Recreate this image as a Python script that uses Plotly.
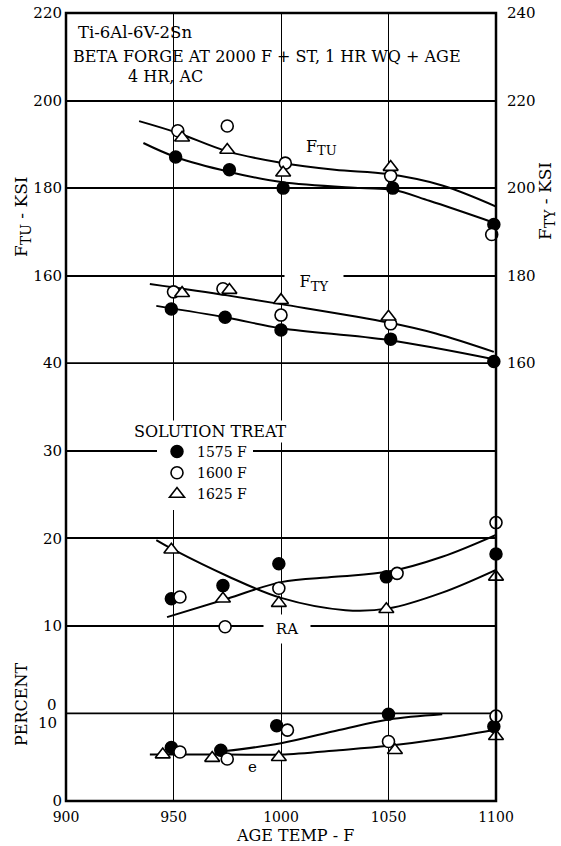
import plotly.graph_objects as go

# ---------------- data ----------------
# Solution-treat series names
ST_NAMES = ["1575 F", "1600 F", "1625 F"]

# Ultimate tensile strength F_TU (ksi, left axis)
FTU_1575_T = [951, 976, 1001, 1052, 1099]
FTU_1575 = [187.1, 184.2, 180.0, 180.0, 171.7]
FTU_1600_T = [952, 975, 1002, 1051, 1098]
FTU_1600 = [193.1, 194.2, 185.7, 182.8, 169.4]
FTU_1625_T = [954, 975, 1001, 1051, 1101]
FTU_1625 = [191.5, 188.7, 183.5, 184.8, 175.8]

# Yield strength F_TY (ksi, right axis)
FTY_1575_T = [949, 974, 1000, 1051, 1099]
FTY_1575 = [172.4, 170.5, 167.6, 165.5, 160.4]
FTY_1600_T = [950, 973, 1000, 1051, 1102]
FTY_1600 = [176.3, 177.0, 171.0, 169.0, 160.9]
FTY_1625_T = [954, 976, 1000, 1050, 1101]
FTY_1625 = [176.0, 176.7, 174.4, 170.6, 163.0]

# Reduction of area RA (percent)
RA_1575_T = [949, 973, 999, 1049, 1100]
RA_1575 = [13.1, 14.6, 17.1, 15.6, 18.2]
RA_1600_T = [953, 974, 999, 1054, 1100]
RA_1600 = [13.3, 9.9, 14.3, 16.0, 21.8]
RA_1625_T = [949, 973, 999, 1049, 1100]
RA_1625 = [18.7, 13.1, 12.6, 11.9, 15.6]

# Elongation e (percent)
EL_1575_T = [949, 972, 998, 1050, 1099]
EL_1575 = [6.1, 5.8, 8.6, 9.9, 8.5]
EL_1600_T = [953, 975, 1003, 1050, 1100]
EL_1600 = [5.6, 4.8, 8.1, 6.8, 9.7]
EL_1625_T = [945, 968, 999, 1053, 1100]
EL_1625 = [5.3, 4.9, 5.0, 5.8, 7.4]

# Faired curves
FTU_UPPER_T = [934, 952, 975, 1000, 1025, 1050, 1075, 1100]
FTU_UPPER = [195.3, 192.6, 188.4, 185.8, 184.2, 183.2, 180.6, 175.8]
FTU_LOWER_T = [936, 951, 976, 1000, 1037, 1052, 1069, 1099]
FTU_LOWER = [190.3, 187.1, 183.7, 181.4, 180.0, 179.6, 177.1, 172.1]

FTY_UPPER_T = [939, 975, 1000, 1050, 1072, 1099]
FTY_UPPER = [178.1, 175.5, 173.5, 169.3, 166.8, 162.6]
FTY_LOWER_T = [942, 975, 1000, 1050, 1099]
FTY_LOWER = [173.1, 170.4, 168.0, 165.3, 160.9]

RA_RISE_T = [947, 975, 1000, 1025, 1050, 1075, 1100]
RA_RISE = [11.0, 13.1, 15.0, 15.6, 16.2, 17.9, 20.4]
RA_U_T = [942, 950, 975, 1000, 1030, 1050, 1075, 1100]
RA_U = [19.8, 18.7, 15.7, 13.2, 11.8, 12.0, 13.8, 16.4]

EL_LOWER_T = [939, 975, 1000, 1027, 1050, 1075, 1099]
EL_LOWER = [5.3, 5.3, 5.3, 5.8, 6.3, 7.1, 8.1]
EL_UPPER_T = [974, 1000, 1027, 1050, 1075]
EL_UPPER = [5.7, 6.6, 8.1, 9.3, 9.9]

# Axis ticks
X_TICKS = [900, 950, 1000, 1050, 1100]
FTU_TICKS = [140, 160, 180, 200, 220]
FTU_TEXT = ["", "160", "180", "200", "220"]
FTY_TICKS = [160, 180, 200, 220, 240]
RA_TICKS = [0, 10, 20, 30, 40]
RA_TEXT = ["", "10", "20", "30", "40"]
EL_TICKS = [0, 10]
EL_TEXT = ["0", ""]

# ---------------- styling ----------------
FONT = "DejaVu Serif"
W, H = 561, 846
ML, MR, MT, MB = 66, 65, 13, 45
PW, PH = W - ML - MR, H - MT - MB
EL_DOMAIN = [0, 1 / 9]
RA_DOMAIN = [1 / 9, 5 / 9]
STR_DOMAIN = [5 / 9, 1]


def px(xp):
    return (xp - ML) / PW


def py(yp):
    return (H - MB - yp) / PH


def F(sub, size=13):
    return "F<sub><span style='font-size:%dpx'>%s</span></sub>" % (size, sub)


marker_styles = {
    "1575 F": dict(symbol="circle", size=12, color="black", line=dict(color="black", width=1.5)),
    "1600 F": dict(symbol="circle", size=12, color="white", line=dict(color="black", width=1.6)),
    "1625 F": dict(symbol="triangle-up", size=13, color="white", line=dict(color="black", width=1.6)),
}

fig = go.Figure()

line_style = dict(color="black", width=2, shape="spline")
curves = [
    (FTU_UPPER_T, FTU_UPPER, "y"), (FTU_LOWER_T, FTU_LOWER, "y"),
    (FTY_UPPER_T, FTY_UPPER, "y2"), (FTY_LOWER_T, FTY_LOWER, "y2"),
    (RA_RISE_T, RA_RISE, "y3"), (RA_U_T, RA_U, "y3"),
    (EL_LOWER_T, EL_LOWER, "y4"), (EL_UPPER_T, EL_UPPER, "y4"),
]
for cx, cy, ya in curves:
    fig.add_trace(go.Scatter(x=cx, y=cy, mode="lines", line=line_style, yaxis=ya,
                             showlegend=False, hoverinfo="skip", cliponaxis=False))

series = {
    "1575 F": [(FTU_1575_T, FTU_1575, "y"), (FTY_1575_T, FTY_1575, "y2"),
               (RA_1575_T, RA_1575, "y3"), (EL_1575_T, EL_1575, "y4")],
    "1600 F": [(FTU_1600_T, FTU_1600, "y"), (FTY_1600_T, FTY_1600, "y2"),
               (RA_1600_T, RA_1600, "y3"), (EL_1600_T, EL_1600, "y4")],
    "1625 F": [(FTU_1625_T, FTU_1625, "y"), (FTY_1625_T, FTY_1625, "y2"),
               (RA_1625_T, RA_1625, "y3"), (EL_1625_T, EL_1625, "y4")],
}
for name in ST_NAMES:
    for i, (sx, sy, ya) in enumerate(series[name]):
        fig.add_trace(go.Scatter(x=sx, y=sy, mode="markers", marker=marker_styles[name],
                                 yaxis=ya, name=name, legendgroup=name,
                                 showlegend=(i == 0), cliponaxis=False))

tickfont = dict(family=FONT, size=15, color="black")
common_y = dict(showgrid=True, gridcolor="black", gridwidth=1.8, zeroline=False,
                showline=False, ticks="", tickfont=tickfont, anchor="x",
                tickmode="array", ticklabelstandoff=3, automargin=False)

fig.update_layout(
    width=W, height=H,
    margin=dict(l=ML, r=MR, t=MT, b=MB, pad=0, autoexpand=False),
    paper_bgcolor="white", plot_bgcolor="rgba(0,0,0,0)",
    font=dict(family=FONT, color="black"),
    xaxis=dict(domain=[0, 1], range=[900, 1100], tickmode="array", tickvals=X_TICKS,
               showgrid=True, gridcolor="black", gridwidth=1.3, zeroline=False,
               showline=False, ticks="", anchor="y4", automargin=False,
               tickfont=dict(family=FONT, size=14, color="black"), ticklabelstandoff=6),
    yaxis=dict(domain=STR_DOMAIN, range=[140, 220], tickvals=FTU_TICKS, ticktext=FTU_TEXT, **common_y),
    yaxis2=dict(overlaying="y", side="right", range=[160, 240], tickmode="array",
                tickvals=FTY_TICKS, showgrid=False, zeroline=False, showline=False,
                ticks="", tickfont=tickfont, anchor="x", ticklabelstandoff=10,
                automargin=False),
    yaxis3=dict(domain=RA_DOMAIN, range=[0, 40], tickvals=RA_TICKS, ticktext=RA_TEXT, **common_y),
    yaxis4=dict(domain=EL_DOMAIN, range=[0, 10], tickvals=EL_TICKS, ticktext=EL_TEXT, **common_y),
    legend=dict(x=px(157), y=py(436), xanchor="left", yanchor="top",
                bgcolor="white", borderwidth=0,
                font=dict(family=FONT, size=14, color="black"),
                itemclick=False, tracegroupgap=0),
    showlegend=True,
)

# section boundary rules between the stacked scales
for v in (RA_DOMAIN[0], RA_DOMAIN[1]):
    fig.add_shape(type="line", xref="paper", x0=0, x1=1, yref="paper", y0=v, y1=v,
                  line=dict(color="black", width=1.8), layer="below")

# plot frame
fig.add_shape(type="rect", xref="paper", yref="paper", x0=0, x1=1, y0=0, y1=1,
              line=dict(color="black", width=2.5), layer="above")

ann = []


def text(t, xp, yp, size=16, xanchor="center", **kw):
    ann.append(dict(text=t, x=px(xp), y=py(yp), xref="paper", yref="paper",
                    xanchor=xanchor, yanchor="middle", showarrow=False,
                    font=dict(family=FONT, size=size, color="black"), **kw))


text("Ti-6Al-6V-2Sn", 76, 33, size=16.5, xanchor="left")
text("BETA FORGE AT 2000 F + ST, 1 HR WQ + AGE", 71, 56, size=16, xanchor="left")
text("4 HR, AC", 126, 76, size=16, xanchor="left")
text(F("TU"), 321, 147, size=16)
text(F("TY"), 314, 283, size=16, bgcolor="white", width=56, height=22)
text("RA", 287, 629, size=15, bgcolor="white", width=44, height=26)
text("e", 252, 767, size=15)
text("SOLUTION TREAT", 210, 431, size=16, bgcolor="white")
# shared-gridline labels of the RA / e scales
text("0", 59, 705, size=15, xanchor="right")
text("10", 59, 723, size=15, xanchor="right")
# axis titles
text(F("TU", 14) + " - KSI", 22, 217, size=17, textangle=-90)
text("PERCENT", 21, 705, size=16, textangle=-90)
text(F("TY", 14) + " - KSI", 546, 201, size=17, textangle=-90)
text("AGE TEMP - F", 295, 835, size=16)

fig.update_layout(annotations=ann)

fig.write_html("out.html", config={"responsive": False, "displayModeBar": False},
               post_script="document.body.style.margin='0';document.body.style.overflow='hidden';")
